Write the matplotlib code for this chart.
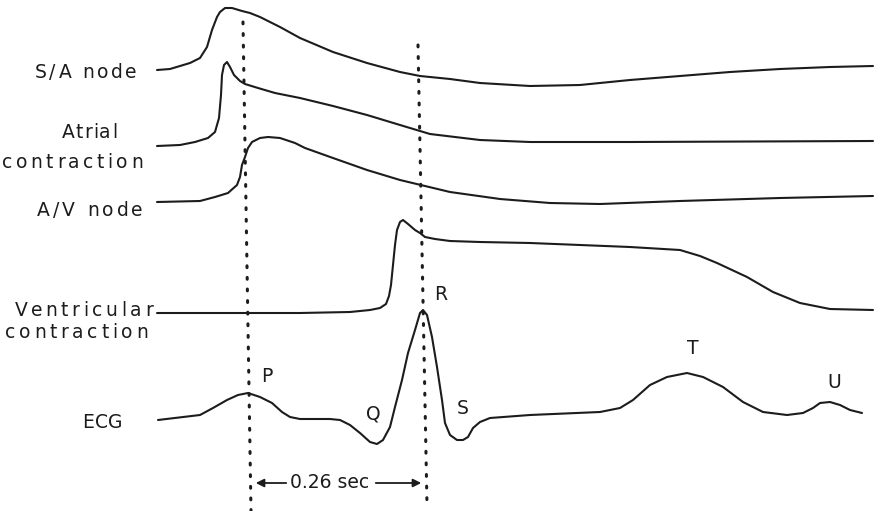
import matplotlib.pyplot as plt

# traced waveforms, in picture coordinates (x to the right, y downwards)
sa_x = [157, 170, 180, 190, 200, 207, 212, 217, 220, 225, 232, 242, 250, 260, 270, 280, 300, 333, 367,
        400, 420, 450, 480, 530, 580, 630, 680, 730, 780, 830, 873]
sa_y = [70, 69, 66, 63, 58, 47, 30, 17, 12, 8, 8, 11, 13, 17, 22, 27, 38, 52, 63,
        72, 76, 79, 83, 86, 85, 80, 76, 72, 69, 67, 66]

atrial_x = [157, 180, 195, 208, 215, 219, 221, 222, 224, 227, 230, 234, 240, 245, 258, 275, 300, 333,
            367, 400, 430, 480, 530, 630, 873]
atrial_y = [146, 145, 142, 138, 132, 118, 95, 75, 65, 62, 67, 75, 81, 84, 88, 93, 98, 106,
            115, 125, 134, 140, 142, 142, 141]

av_x = [157, 200, 215, 228, 237, 240, 242, 245, 248, 252, 260, 268, 280, 295, 305, 333, 367, 400, 450,
        500, 550, 600, 680, 780, 873]
av_y = [202, 201, 197, 193, 185, 177, 165, 157, 148, 142, 138, 137, 138, 143, 148, 158, 170, 180, 192,
        199, 203, 204, 201, 198, 196]

vent_x = [157, 300, 350, 370, 380, 386, 389, 391, 393, 395, 397, 400, 403, 408, 415, 420, 425, 435, 450,
          480, 530, 580, 630, 680, 700, 717, 747, 773, 800, 830, 873]
vent_y = [313, 313, 312, 310, 308, 304, 296, 285, 265, 245, 230, 222, 220, 224, 230, 233, 237, 239, 241,
          242, 243, 245, 247, 250, 256, 263, 277, 292, 303, 309, 310]

ecg_x = [158, 200, 213, 227, 238, 248, 260, 272, 282, 290, 300, 310, 330, 340, 350, 360, 370, 377, 383,
         390, 395, 402, 408, 415, 420, 423, 427, 432, 437, 442, 445, 450, 457, 463, 468, 473, 480, 490,
         530, 600, 620, 633, 650, 667, 687, 703, 723, 743, 763, 787, 803, 813, 820, 830, 840, 850, 862]
ecg_y = [420, 415, 408, 400, 395, 393, 397, 403, 412, 417, 419, 419, 419, 420, 425, 433, 442, 444, 440,
         427, 407, 380, 353, 330, 313, 310, 315, 337, 367, 400, 423, 435, 440, 440, 437, 428, 422, 418,
         415, 412, 408, 400, 385, 377, 373, 377, 387, 402, 412, 415, 413, 408, 403, 402, 405, 410, 413]

# row labels, one entry per printed line: left edge, right edge, centre height
label_lines = ["S/A node", "Atrial", "contraction", "A/V node", "Ventricular", "contraction", "ECG"]
label_left = [35, 62, 2, 37, 15, 5, 82]
label_right = [137, 117, 143, 143, 153, 148, 123]
label_y = [72, 133, 163, 210, 310, 333, 422]

wave_names = ["P", "Q", "R", "S", "T", "U"]
wave_x = [267, 373, 441, 463, 693, 834]
wave_y = [377, 414, 295, 409, 348, 383]

interval_text = "0.26 sec"

ink = "#1c1c1c"
font = dict(fontsize=13.5, color=ink, family="DejaVu Sans")

fig = plt.figure(figsize=(8.78, 5.11), dpi=100)
ax = fig.add_axes([0, 0, 1, 1])
ax.set_xlim(0, 878)
ax.set_ylim(511, 0)
ax.axis("off")
renderer = fig.canvas.get_renderer()


def text_width(s):
    t = ax.text(0, 0, s, **font)
    w = t.get_window_extent(renderer).width
    t.remove()
    return w


def spaced_text(s, x0, x1, y):
    # the scanned lettering is widely tracked, so place letters one by one
    bar = text_width("|")
    offs = [text_width(s[:i] + "|") - bar for i in range(len(s))]
    natural = text_width(s)
    track = (x1 - x0 - natural) / max(len(s) - 1, 1)
    for i, ch in enumerate(s):
        if ch != " ":
            ax.text(x0 + offs[i] + i * track, y, ch, ha="left", va="center", **font)


for xs, ys in [(sa_x, sa_y), (atrial_x, atrial_y), (av_x, av_y), (vent_x, vent_y), (ecg_x, ecg_y)]:
    ax.plot(xs, ys, color=ink, linewidth=1.5, solid_capstyle="round", solid_joinstyle="round")

# dotted timing markers
ax.plot([243, 251], [22, 511], color=ink, linewidth=2.2, linestyle=(0, (0.6, 3.2)), dash_capstyle="round")
ax.plot([418, 427], [45, 505], color=ink, linewidth=2.2, linestyle=(0, (0.6, 3.2)), dash_capstyle="round")

for s, x0, x1, y in zip(label_lines, label_left, label_right, label_y):
    spaced_text(s, x0, x1, y)

for name, x, y in zip(wave_names, wave_x, wave_y):
    ax.text(x, y, name, ha="center", va="center", **font)

# 0.26 sec interval
ax.annotate("", xy=(253, 483), xytext=(289, 483),
            arrowprops=dict(arrowstyle="-|>", color=ink, lw=1.3, mutation_scale=12))
ax.text(330, 483, interval_text, ha="center", va="center", **font)
ax.annotate("", xy=(424, 483), xytext=(373, 483),
            arrowprops=dict(arrowstyle="-|>", color=ink, lw=1.3, mutation_scale=12))

fig.savefig("out.png", dpi=100, facecolor="white")
